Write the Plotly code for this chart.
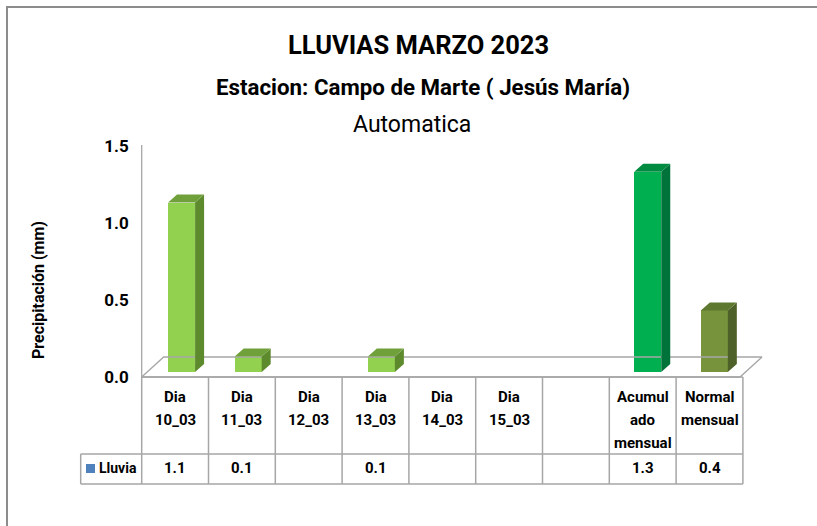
import plotly.graph_objects as go

# ---------------- data ----------------
categories = ["Dia\n10_03", "Dia\n11_03", "Dia\n12_03", "Dia\n13_03", "Dia\n14_03",
              "Dia\n15_03", "", "Acumul\nado\nmensual", "Normal\nmensual"]
lluvia = [1.1, 0.1, None, 0.1, None, None, None, 1.3, 0.4]
value_labels = ["1.1", "0.1", "", "0.1", "", "", "", "1.3", "0.4"]
y_ticks = [0.0, 0.5, 1.0, 1.5]
y_tick_text = ["0.0", "0.5", "1.0", "1.5"]
series_name = "Lluvia"
title = "LLUVIAS MARZO 2023"
subtitle = "Estacion: Campo de Marte ( Jesús María)"
subtitle2 = "Automatica"
y_title = "Precipitación (mm)"

front_colors = ["#92D050"] * 7 + ["#00B050", "#77933C"]
side_colors = ["#5E8A2E"] * 7 + ["#00733A", "#4E6128"]
top_colors = ["#6FA03A"] * 7 + ["#008C40", "#5F7830"]
legend_color = "#4F81BD"
grid_color = "#A6A6A6"

FONT = "Roboto, Arial, sans-serif"

# -------- pixel <-> data mapping (layout geometry) --------
W, H = 817, 526
X0_PX, XU = 175.1, 66.8     # centre of first category, px per category
Y0_PX, YU = 377.0, 154.0    # value 0 on the front floor edge, px per mm


def X(px):
    return (px - X0_PX) / XU


def Y(py):
    return (Y0_PX - py) / YU


n = len(categories)
BAR_W = 27 / XU
DDX, DDY = 9 / XU, 8 / YU          # bar depth
FDX, FDY = 22 / XU, 20 / YU        # floor depth
BASE = Y(372)

fig = go.Figure()

# floor
fx0, fx1 = -0.5, X(740)
fig.add_trace(go.Scatter(
    x=[fx0, fx1, fx1 + FDX, fx0 + FDX, fx0, None, fx0, fx0],
    y=[0, 0, FDY, FDY, 0, None, 0, Y(145)],
    mode="lines", line=dict(color=grid_color, width=1.3), hoverinfo="skip",
    showlegend=False))

# table grid
tx, ty = [], []
for k in range(n + 1):
    tx += [-0.5 + k, -0.5 + k, None]
    ty += [0, Y(484), None]
leg_left = X(80.7)
for yy in [Y(454), Y(484)]:
    tx += [leg_left, n - 0.5, None]
    ty += [yy, yy, None]
tx += [leg_left, leg_left, None, -0.5, n - 0.5]
ty += [Y(454), Y(484), None, 0, 0]
fig.add_trace(go.Scatter(x=tx, y=ty, mode="lines",
                         line=dict(color=grid_color, width=1.5),
                         hoverinfo="skip", showlegend=False))

# bars: front faces as bars, side/top faces as polygons
bx, by, bc = [], [], []
for i, v in enumerate(lluvia):
    if v is None:
        continue
    xl = i - 0.105 - 0.0031 * i
    xr = xl + BAR_W
    yt = BASE + v
    bx.append((xl + xr) / 2)
    by.append(v)
    bc.append(front_colors[i])
    fig.add_trace(go.Scatter(
        x=[xr, xr + DDX, xr + DDX, xr, xr], y=[BASE, BASE + DDY, yt + DDY, yt, BASE],
        fill="toself", fillcolor=side_colors[i], mode="lines", line=dict(width=0),
        hoverinfo="skip", showlegend=False))
    fig.add_trace(go.Scatter(
        x=[xl, xr, xr + DDX, xl + DDX, xl], y=[yt, yt, yt + DDY, yt + DDY, yt],
        fill="toself", fillcolor=top_colors[i], mode="lines", line=dict(width=0),
        hoverinfo="skip", showlegend=False))

fig.add_trace(go.Bar(x=bx, y=by, base=BASE, width=BAR_W,
                     marker=dict(color=bc, line=dict(width=0)),
                     hoverinfo="skip", showlegend=False))

# legend key
fig.add_trace(go.Scatter(x=[X(90.5)], y=[Y(468.5)], mode="markers",
                         marker=dict(symbol="square", size=9, color=legend_color),
                         hoverinfo="skip", showlegend=False))

annotations = []
# header cells
for i, c in enumerate(categories):
    for j, line in enumerate(c.split("\n")):
        if not line:
            continue
        annotations.append(dict(x=i, y=Y(397 + 23 * j), xref="x", yref="y",
                                text="<b>" + line + "</b>",
                                showarrow=False, xanchor="center", yanchor="middle",
                                font=dict(family=FONT, size=15, color="#000000")))
# value row
for i, t in enumerate(value_labels):
    if t:
        annotations.append(dict(x=i, y=Y(468), xref="x", yref="y", text="<b>" + t + "</b>",
                                showarrow=False, xanchor="center", yanchor="middle",
                                font=dict(family=FONT, size=15, color="#000000")))
annotations.append(dict(x=X(97), y=Y(468), xref="x", yref="y", text="<b>" + series_name + "</b>",
                        showarrow=False, xanchor="left", yanchor="middle",
                        font=dict(family=FONT, size=14, color="#000000")))
# titles
annotations.append(dict(x=418 / W, y=1 - 45 / H, xref="paper", yref="paper",
                        text="<b>" + title + "</b>", showarrow=False, yanchor="middle",
                        font=dict(family=FONT, size=25.5, color="#000000")))
annotations.append(dict(x=423 / W, y=1 - 87 / H, xref="paper", yref="paper",
                        text="<b>" + subtitle + "</b>", showarrow=False, yanchor="middle",
                        font=dict(family=FONT, size=22.3, color="#000000")))
annotations.append(dict(x=412 / W, y=1 - 124 / H, xref="paper", yref="paper",
                        text=subtitle2, showarrow=False, yanchor="middle",
                        font=dict(family=FONT, size=23, color="#000000")))
annotations.append(dict(x=38 / W, y=1 - 290 / H, xref="paper", yref="paper",
                        text="<b>" + y_title + "</b>", showarrow=False, textangle=-90,
                        xanchor="center", yanchor="middle",
                        font=dict(family=FONT, size=16, color="#000000")))

fig.update_layout(
    width=W, height=H, margin=dict(l=0, r=0, t=0, b=0),
    paper_bgcolor="white", plot_bgcolor="white",
    hovermode=False, showlegend=False, bargap=0,
    xaxis=dict(range=[X(0), X(W)], domain=[0, 1], visible=False, fixedrange=True),
    yaxis=dict(range=[Y(H), Y(0)], domain=[0, 1], anchor="free", position=141.7 / W,
               showline=False, showgrid=False, zeroline=False,
               tickvals=y_ticks, ticktext=y_tick_text, ticks="",
               ticklabelstandoff=13, fixedrange=True,
               tickfont=dict(family=FONT, size=17, color="#000000", weight="bold")),
    annotations=annotations,
    shapes=[dict(type="path", xref="paper", yref="paper",
                 path=f"M 1.01 {1 - 7 / H} L {7 / W} {1 - 7 / H} L {7 / W} -0.01",
                 line=dict(color="#8C8C8C", width=2))],
)

fig.write_html("out.html", config={"displayModeBar": False})
